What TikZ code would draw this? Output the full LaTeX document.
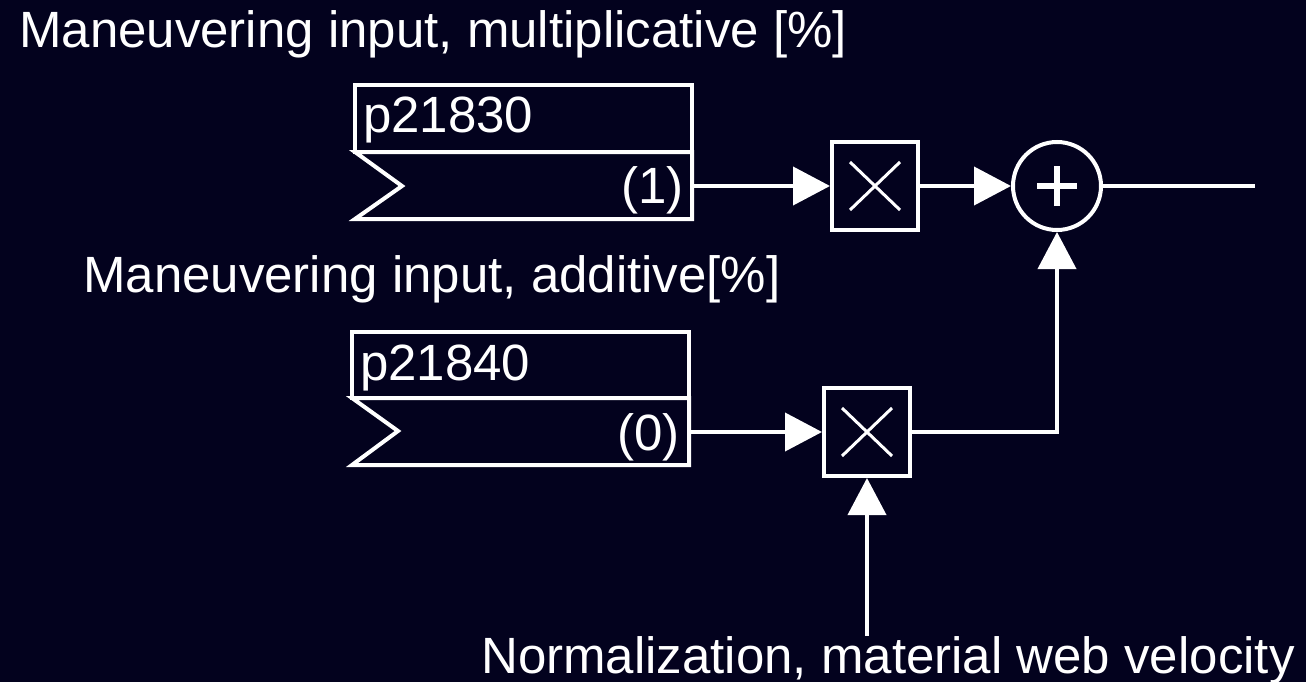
\documentclass[tikz,border=0pt]{standalone}
\usepackage{fontspec}
\setmainfont{Liberation Sans}
\usetikzlibrary{arrows.meta}
\definecolor{bg}{RGB}{3,2,30}
\begin{document}
\begin{tikzpicture}[x=1pt,y=-1pt,
  every node/.style={text=white,inner sep=0pt,font=\fontsize{51}{58}\selectfont},
  wire/.style={draw=white,line width=4pt},
  arr/.style={wire,-{Triangle[length=37pt,width=38pt]}},
  mult/.style={draw=white,line width=4pt,minimum width=86pt,minimum height=88pt,fill=bg},
  parbox/.style={draw=white,line width=4pt,line join=miter}]
\fill[bg] (0,0) rectangle (1306,682);
\useasboundingbox (0,0) rectangle (1306,682);

% labels
\node[anchor=base west] (t1) at (19,48) {Maneuvering input, multiplicative [\%]};
\node[anchor=base west] (t2) at (83,292) {Maneuvering input, additive[\%]};
\node[anchor=base west] (t3) at (481,673) {Normalization, material web velocity};

% parameter box 1
\draw[parbox] (355,85) rectangle (692,152);
\draw[parbox] (355,152) -- (692,152) -- (692,219) -- (355,219) -- (402,186) -- cycle;
\node[anchor=base west] (p1) at (363,133) {p21830};
\node[anchor=base east] (v1) at (684,203) {(1)};
\coordinate (o1) at (692,186);

% parameter box 2
\draw[parbox] (352,332) rectangle (689,398);
\draw[parbox] (352,398) -- (689,398) -- (689,465) -- (352,465) -- (398,431) -- cycle;
\node[anchor=base west] (p2) at (360,380) {p21840};
\node[anchor=base east] (v2) at (680,450) {(0)};
\coordinate (o2) at (689,432);

% multipliers
\node[mult] (m1) at (875,186) {};
\draw[white,line width=3pt] ([shift={(-25,-24)}]m1.center) -- ([shift={(25,24)}]m1.center)
  ([shift={(-25,24)}]m1.center) -- ([shift={(25,-24)}]m1.center);
\node[mult] (m2) at (867,432) {};
\draw[white,line width=3pt] ([shift={(-25,-24)}]m2.center) -- ([shift={(25,24)}]m2.center)
  ([shift={(-25,24)}]m2.center) -- ([shift={(25,-24)}]m2.center);

% summation
\node[circle,draw=white,line width=4pt,minimum size=88pt] (s) at (1057,186) {};
\draw[white,line width=6pt] ([xshift=-20pt]s.center) -- ([xshift=20pt]s.center)
  ([yshift=-20pt]s.center) -- ([yshift=20pt]s.center);
\coordinate (out) at (1255,186);

% connectors
\draw[arr] (o1) -- (m1.west);
\draw[arr] (m1.east) -- (s.west);
\draw[wire] (s.east) -- (out);
\draw[arr] (o2) -- (m2.west);
\draw[arr] (m2.east) -| (s.south);
\coordinate (n0) at (867,636);
\draw[arr] (n0) -- (m2.south);
\end{tikzpicture}
\end{document}
